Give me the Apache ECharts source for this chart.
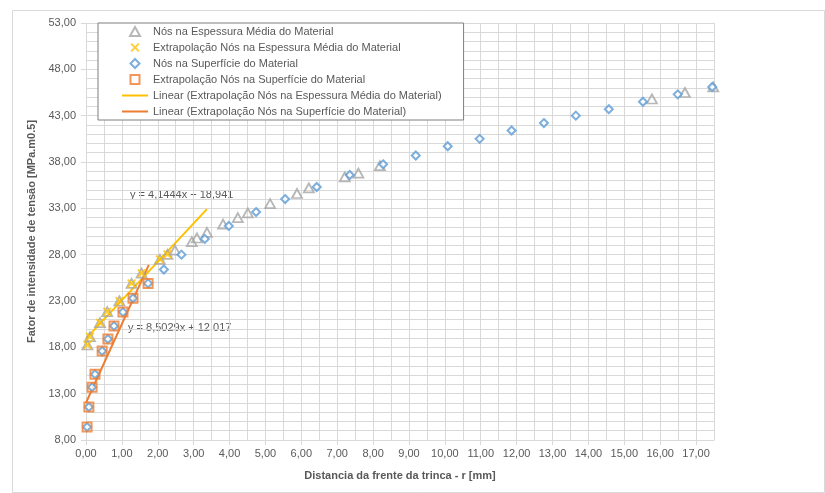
<!DOCTYPE html>
<html>
<head>
<meta charset="utf-8">
<script src="https://cdn.jsdelivr.net/npm/echarts@6/dist/echarts.min.js"></script>
<style>
  html, body { margin: 0; padding: 0; background: #fff; }
  #chart { width: 825px; height: 493px; }
</style>
</head>
<body>
<div id="chart"></div>
<script>
// Stress intensity factor vs. distance from the crack front
const seriesNames = [
  'Nós na Espessura Média do Material',
  'Extrapolação Nós na Espessura Média do Material',
  'Nós na Superfície do Material',
  'Extrapolação Nós na Superfície do Material',
  'Linear (Extrapolação Nós na Espessura Média do Material)',
  'Linear (Extrapolação Nós na Superfície do Material)'
];

// Mid-thickness nodes
const midX = [0.04, 0.11, 0.39, 0.59, 0.93, 1.27, 1.55, 2.06, 2.27, 2.48, 2.95, 3.09, 3.37, 3.82, 4.23, 4.51, 5.13, 5.88, 6.21, 7.21, 7.59, 8.19, 15.77, 16.69, 17.48];
const midY = [18.25, 19.15, 20.66, 21.85, 23.0, 24.9, 26.0, 27.5, 28.04, 28.5, 29.4, 29.8, 30.4, 31.3, 32.0, 32.5, 33.5, 34.6, 35.2, 36.4, 36.8, 37.6, 44.8, 45.5, 46.1];

// Mid-thickness nodes used for the extrapolation
const midExtX = [0.04, 0.11, 0.39, 0.59, 0.93, 1.27, 1.55, 2.06, 2.27];
const midExtY = [18.25, 19.15, 20.66, 21.85, 23.0, 24.9, 26.0, 27.5, 28.04];

// Surface nodes
const surfX = [0.03, 0.08, 0.17, 0.25, 0.45, 0.61, 0.78, 1.03, 1.31, 1.73, 2.17, 2.66, 3.31, 3.98, 4.74, 5.55, 6.43, 7.35, 8.28, 9.19, 10.08, 10.97, 11.86, 12.76, 13.65, 14.57, 15.52, 16.49, 17.45];
const surfY = [9.4, 11.56, 13.7, 15.1, 17.6, 18.9, 20.3, 21.8, 23.3, 24.9, 26.4, 28.0, 29.7, 31.1, 32.6, 34.0, 35.3, 36.6, 37.75, 38.7, 39.7, 40.5, 41.4, 42.2, 43.0, 43.7, 44.5, 45.3, 46.1];

// Surface nodes used for the extrapolation
const surfExtX = [0.03, 0.08, 0.17, 0.25, 0.45, 0.61, 0.78, 1.03, 1.31, 1.73];
const surfExtY = [9.4, 11.56, 13.7, 15.1, 17.6, 18.9, 20.3, 21.8, 23.3, 24.9];

// Linear trend lines: slope, intercept and x span
const trendSlope = [4.1444, 8.5029];
const trendIntercept = [18.941, 12.017];
const trendFrom = [0, 0];
const trendTo = [3.37, 1.75];
const trendLabels = ['y = 4,1444x + 18,941', 'y = 8,5029x + 12,017'];

// Axes
const xMin = 0, xMax = 17.5, xStep = 1, xMinorStep = 0.5;
const yMin = 8, yMax = 53, yStep = 5, yMinorStep = 1;
const xTitle = 'Distancia da frente da trinca - r [mm]';
const yTitle = 'Fator de intensidade de tensão [MPa.m0.5]';

const zip = (xs, ys) => xs.map((x, i) => [x, ys[i]]);
const trendPoints = i => [trendFrom[i], trendTo[i]].map(x => [x, trendSlope[i] * x + trendIntercept[i]]);
const fmt = v => v.toFixed(2).replace('.', ',');

const FONT = 'Liberation Sans';
const TXT = '#595959';
const GRID = '#d9d9d9';

// Marker shapes (paths so that legend icons keep their aspect ratio)
const triPath = 'path://M5,0 L10,9 L0,9 Z';
const crossPath = 'path://M0,1.5 L1.5,0 L5,3.5 L8.5,0 L10,1.5 L6.5,5 L10,8.5 L8.5,10 L5,6.5 L1.5,10 L0,8.5 L3.5,5 Z';
const diamondPath = 'path://M5,0 L10,5 L5,10 L0,5 Z';
const squarePath = 'path://M0,0 L10,0 L10,10 L0,10 Z';
const linePath = 'path://M0,0 L26,0 L26,2 L0,2 Z';

const chart = echarts.init(document.getElementById('chart'), null, { renderer: 'canvas' });

chart.setOption({
  animation: false,
  textStyle: { fontFamily: FONT, color: TXT },
  grid: { left: 86, right: 111, top: 23, bottom: 53, containLabel: false },
  xAxis: [
    {
      type: 'value', min: xMin, max: xMax, interval: xStep,
      axisLine: { show: true, lineStyle: { color: GRID, width: 1 } },
      axisTick: { show: true, length: 5, lineStyle: { color: GRID } },
      splitLine: { show: false },
      axisLabel: {
        color: TXT, fontSize: 11, fontFamily: FONT, margin: 8,
        showMaxLabel: false,
        formatter: v => (Math.abs(v - Math.round(v)) < 1e-9 ? fmt(v) : '')
      },
      name: xTitle, nameLocation: 'middle', nameGap: 30,
      nameTextStyle: { color: TXT, fontSize: 11, fontWeight: 'bold', fontFamily: FONT }
    },
    {
      type: 'value', min: xMin, max: xMax, interval: xMinorStep, position: 'bottom',
      axisLine: { show: false }, axisTick: { show: false }, axisLabel: { show: false },
      splitLine: { show: true, lineStyle: { color: GRID, width: 1 } }
    }
  ],
  yAxis: [
    {
      type: 'value', min: yMin, max: yMax, interval: yStep,
      axisLine: { show: false },
      axisTick: { show: true, length: 5, lineStyle: { color: GRID } },
      splitLine: { show: false },
      axisLabel: { color: TXT, fontSize: 11, fontFamily: FONT, margin: 10, formatter: fmt },
      name: yTitle, nameLocation: 'middle', nameGap: 42,
      nameTextStyle: { color: TXT, fontSize: 11, fontWeight: 'bold', fontFamily: FONT }
    },
    {
      type: 'value', min: yMin, max: yMax, interval: yMinorStep,
      axisLine: { show: false }, axisTick: { show: false }, axisLabel: { show: false },
      splitLine: { show: true, lineStyle: { color: GRID, width: 1 } }
    }
  ],
  legend: {
    orient: 'vertical', left: 98, top: 23,
    padding: [3, 22, 3, 24], itemGap: 5, itemWidth: 26, itemHeight: 9,
    symbolKeepAspect: true,
    backgroundColor: '#fff', borderColor: '#7f7f7f', borderWidth: 1,
    textStyle: { color: TXT, fontSize: 11, fontFamily: FONT },
    data: [
      { name: seriesNames[0], icon: triPath },
      { name: seriesNames[1], icon: crossPath },
      { name: seriesNames[2], icon: diamondPath },
      { name: seriesNames[3], icon: squarePath },
      { name: seriesNames[4], icon: linePath, itemStyle: { color: '#ffc000', borderWidth: 0 } },
      { name: seriesNames[5], icon: linePath, itemStyle: { color: '#ed7d31', borderWidth: 0 } }
    ]
  },
  series: [
    {
      name: seriesNames[0], type: 'scatter', data: zip(midX, midY),
      symbol: triPath, symbolSize: [10, 9],
      itemStyle: { color: 'rgba(255,255,255,0)', borderColor: '#a5a5a5', borderWidth: 1.8 }
    },
    {
      name: seriesNames[1], type: 'scatter', data: zip(midExtX, midExtY),
      symbol: crossPath, symbolSize: 9,
      itemStyle: { color: '#ffc000' }
    },
    {
      name: seriesNames[2], type: 'scatter', data: zip(surfX, surfY),
      symbol: diamondPath, symbolSize: 8,
      itemStyle: { color: '#ffffff', borderColor: '#5b9bd5', borderWidth: 2 }
    },
    {
      name: seriesNames[3], type: 'scatter', data: zip(surfExtX, surfExtY),
      symbol: squarePath, symbolSize: 9,
      itemStyle: { color: 'rgba(255,255,255,0)', borderColor: '#ed7d31', borderWidth: 2 }
    },
    {
      name: seriesNames[4], type: 'line', data: trendPoints(0),
      symbol: 'none', lineStyle: { color: '#ffc000', width: 2 }, itemStyle: { color: '#ffc000' }, z: 1
    },
    {
      name: seriesNames[5], type: 'line', data: trendPoints(1),
      symbol: 'none', lineStyle: { color: '#ed7d31', width: 2 }, itemStyle: { color: '#ed7d31' }, z: 1
    }
  ],
  graphic: [
    {
      type: 'rect', left: 10, top: 8, z: -10, silent: true,
      shape: { width: 812, height: 482 },
      style: { fill: 'none', stroke: '#d9d9d9', lineWidth: 1 }
    },
    {
      type: 'text', left: 130, top: 189,
      style: { text: trendLabels[0], fill: TXT, font: '11px "' + FONT + '"' }
    },
    {
      type: 'text', left: 128, top: 322,
      style: { text: trendLabels[1], fill: TXT, font: '11px "' + FONT + '"' }
    }
  ]
});
</script>
</body>
</html>
